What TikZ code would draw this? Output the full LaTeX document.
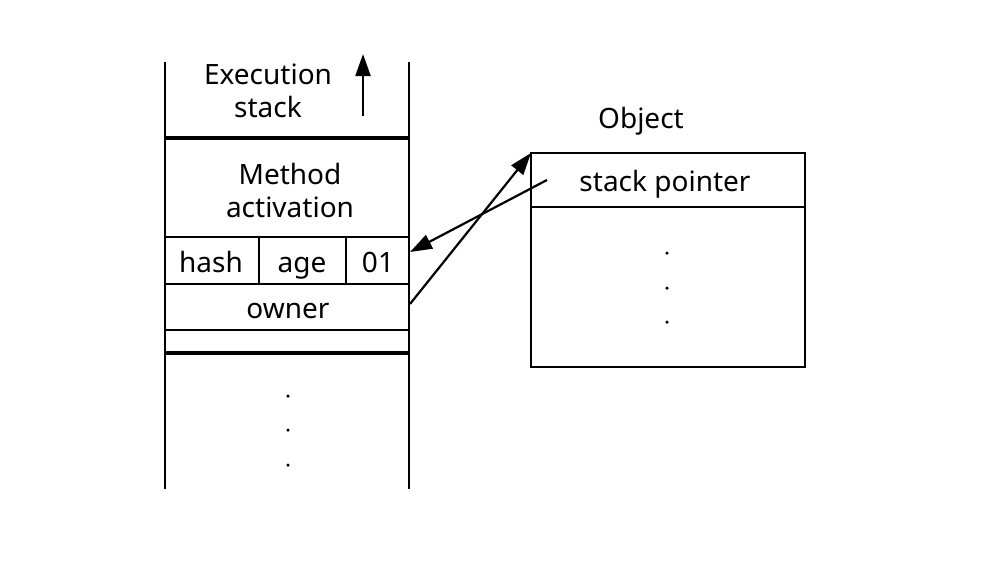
\documentclass[tikz,border=0pt]{standalone}
\usepackage{fontspec}
\setmainfont{Noto Sans}
\usetikzlibrary{arrows.meta}
\begin{document}
\begin{tikzpicture}[x=1pt,y=-1pt,
  thin line/.style={line width=2.3pt},
  thick line/.style={line width=4.5pt},
  txt/.style={font=\fontsize{28}{33}\selectfont, inner sep=0pt, anchor=base},
  ptr/.style={line width=2.2pt, -{Triangle[length=22pt,width=15pt]}},
  dot/.style={circle, fill=black, inner sep=0pt, minimum size=3.5pt}]
\useasboundingbox (0,0) rectangle (1004,566);
% execution stack frame
\draw[thin line] (165,62) -- (165,489);
\draw[thin line] (409,62) -- (409,489);
\draw[thick line] (165,138) -- (409,138);
\draw[thin line] (165,237) -- (409,237);
\draw[thin line] (165,284) -- (409,284);
\draw[thin line] (165,330) -- (409,330);
\draw[thick line] (165,353) -- (409,353);
\draw[thin line] (259,237) -- (259,284);
\draw[thin line] (346,237) -- (346,284);
\node[txt, align=center] (exec) at (268,117) {Execution\\stack};
\coordinate (growbot) at (363,116);
\coordinate (growtop) at (363,54);
\draw[ptr] (growbot) -- (growtop);
\node[txt, align=center] (method) at (290,217) {Method\\activation};
\node[txt] (hash) at (211,272) {hash};
\node[txt] (age) at (302,272) {age};
\node[txt] (lock) at (378,272) {01};
\node[txt] (owner) at (288,318) {owner};
\node[dot] (d1) at (288,396) {};
\node[dot] (d2) at (288,430) {};
\node[dot] (d3) at (288,465) {};
% object
\node[txt] (objlabel) at (641,128) {Object};
\draw[thin line] (531,153) rectangle (805,367);
\draw[thin line] (531,207) -- (805,207);
\coordinate (objcorner) at (531,153);
\node[txt] (sp) at (665,191.5) {stack pointer};
\coordinate (spstart) at (547,180);
\node[dot] (e1) at (667,253) {};
\node[dot] (e2) at (667,288) {};
\node[dot] (e3) at (667,322) {};
% pointers
\coordinate (lockend) at (410,252);
\coordinate (ownerstart) at (410,304);
\draw[ptr] (spstart) -- (lockend);
\draw[ptr] (ownerstart) -- (objcorner);
\end{tikzpicture}
\end{document}
